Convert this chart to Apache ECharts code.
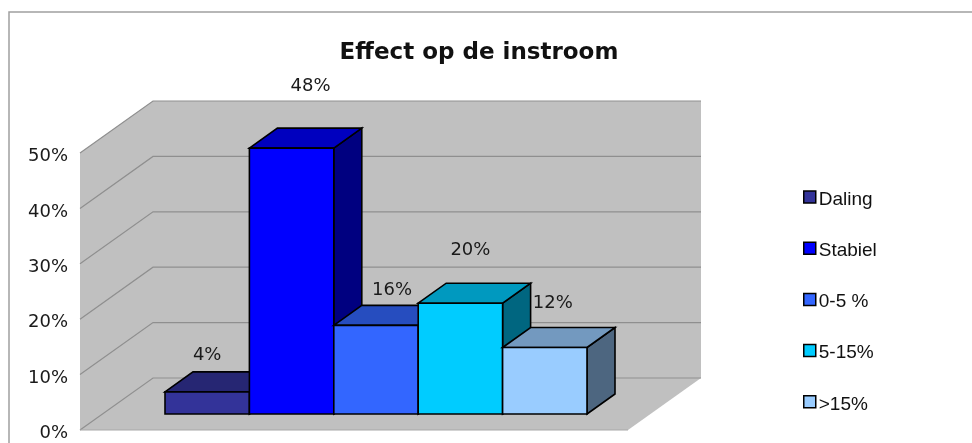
<!DOCTYPE html>
<html><head><meta charset="utf-8">
<style>html,body{margin:0;padding:0;background:#fff}#c{width:972px;height:443px}</style>
<script src="https://cdn.jsdelivr.net/npm/echarts@6/dist/echarts.min.js"></script>
</head><body><div id="c"></div>
<script>
var titleText = 'Effect op de instroom';
var categories = ['Daling', 'Stabiel', '0-5 %', '5-15%', '>15%'];
var values = [4, 48, 16, 20, 12];
var colors = ['#333399', '#0000ff', '#3366ff', '#00ccff', '#99ccff'];
var yTicks = [0, 10, 20, 30, 40, 50];
var labelNudgeX = [0, 19, 16, 10, 8];
var labelNudgeY = [38, 63, 36, 54, 45];

// projection of the 3D look
var WALL_DX = 73, WALL_DY = -52;   // floor depth
var BAR_DX = 28, BAR_DY = -20;     // bar depth
var BAR_SHIFT_Y = -16;             // bars stand on the floor, in front of the back wall
var PLANE_LEFT = 85, PLANE_RIGHT = 41; // front plane beyond the bars' span

function shade(hex, f) {
  var n = parseInt(hex.slice(1), 16);
  var r = Math.round((n >> 16 & 255) * f), g = Math.round((n >> 8 & 255) * f), b = Math.round((n & 255) * f);
  return 'rgb(' + r + ',' + g + ',' + b + ')';
}
function poly(pts, fill, stroke, lw) {
  return { type: 'polygon', shape: { points: pts }, style: { fill: fill, stroke: stroke || null, lineWidth: lw || 0 } };
}
function renderWalls(params, api) {
  var cs = params.coordSys;
  var xl = cs.x - PLANE_LEFT, xr = cs.x + cs.width + PLANE_RIGHT;
  var y0 = api.coord([0, 0])[1], yT = api.coord([0, yTicks[yTicks.length - 1]])[1];
  var kids = [
    poly([[xl, y0], [xr, y0], [xr + WALL_DX, y0 + WALL_DY], [xl + WALL_DX, y0 + WALL_DY]], '#c0c0c0'),
    poly([[xl, y0], [xl, yT], [xl + WALL_DX, yT + WALL_DY], [xl + WALL_DX, y0 + WALL_DY]], '#c0c0c0'),
    { type: 'rect', shape: { x: xl + WALL_DX, y: yT + WALL_DY, width: xr - xl, height: y0 - yT }, style: { fill: '#c0c0c0' } }
  ];
  var line = { stroke: '#8f8f8f', lineWidth: 1.2 };
  yTicks.forEach(function (t) {
    var y = api.coord([0, t])[1];
    kids.push({ type: 'polyline', shape: { points: [[xl, y], [xl + WALL_DX, y + WALL_DY], [xr + WALL_DX, y + WALL_DY]] }, style: Object.assign({ fill: null }, line) });
  });
  kids.push({ type: 'line', shape: { x1: xl, y1: y0, x2: xr, y2: y0 }, style: { stroke: '#a8a8a8', lineWidth: 1.2 } });
  return { type: 'group', children: kids };
}
function renderBar(params, api) {
  var idx = api.value(0), val = api.value(1);
  var base = api.coord([idx, 0]), top = api.coord([idx, val]);
  var w = api.size([1, 0])[0];
  var xa = base[0] - w / 2, xb = base[0] + w / 2;
  var yb = base[1] + BAR_SHIFT_Y, yt = top[1] + BAR_SHIFT_Y;
  var c = colors[idx], edge = '#000', lw = 1.6;
  return {
    type: 'group', children: [
      poly([[xb, yb], [xb + BAR_DX, yb + BAR_DY], [xb + BAR_DX, yt + BAR_DY], [xb, yt]], shade(c, 0.5), edge, lw),
      poly([[xa, yt], [xa + BAR_DX, yt + BAR_DY], [xb + BAR_DX, yt + BAR_DY], [xb, yt]], shade(c, 0.75), edge, lw),
      { type: 'rect', shape: { x: xa, y: yt, width: xb - xa, height: yb - yt }, style: { fill: c, stroke: edge, lineWidth: lw } }
    ]
  };
}
function renderLabel(params, api) {
  var idx = api.value(0), val = api.value(1);
  var top = api.coord([idx, val]);
  return {
    type: 'text', z2: 100,
    style: {
      x: top[0] + labelNudgeX[idx], y: top[1] + BAR_SHIFT_Y - labelNudgeY[idx] + 1,
      text: val + '%', textAlign: 'center', textVerticalAlign: 'middle',
      font: '18px "DejaVu Sans"', fill: '#1a1a1a'
    }
  };
}
var series = [{ type: 'custom', name: 'walls', silent: true, z: 1, renderItem: renderWalls, data: [[0, 0]], encode: { x: 0, y: 1 } }];
categories.forEach(function (n, i) {
  series.push({ type: 'custom', name: n, z: 2 + i, renderItem: renderBar, data: [[i, values[i]]], itemStyle: { color: colors[i] }, encode: { x: 0, y: 1 } });
});
series.push({ type: 'custom', name: 'labels', silent: true, z: 20, renderItem: renderLabel, data: values.map(function (v, i) { return [i, v]; }), encode: { x: 0, y: 1 } });

var chart = echarts.init(document.getElementById('c'), null, { renderer: 'canvas', width: 972, height: 443 });
chart.setOption({
  animation: false,
  backgroundColor: '#fff',
  title: { text: titleText, left: 474, top: 37, textAlign: 'center', textStyle: { fontFamily: 'DejaVu Sans', fontWeight: 'bold', fontSize: 23, color: '#111' } },
  graphic: [{ type: 'rect', z: -1, shape: { x: 9, y: 12, width: 1000, height: 460 }, style: { fill: '#fff', stroke: '#a0a0a0', lineWidth: 1.5 } }],
  legend: {
    data: categories, orient: 'vertical', left: 803, top: 190, itemWidth: 12, itemHeight: 12, itemGap: 32.2,
    icon: 'rect', selectedMode: false, padding: 0,
    itemStyle: { borderColor: '#000', borderWidth: 1.5 },
    formatter: '{t|{name}}',
    textStyle: { rich: { t: { fontFamily: 'Liberation Sans', fontSize: 19, color: '#111', padding: [5, 0, 0, -2] } } }
  },
  grid: { left: 165, width: 422, top: 153, height: 277 },
  xAxis: { type: 'category', data: categories, show: false, boundaryGap: true },
  yAxis: {
    type: 'value', min: 0, max: 50, interval: 10, offset: PLANE_LEFT,
    axisLine: { show: false }, axisTick: { show: false }, splitLine: { show: false },
    axisLabel: { margin: 12, formatter: '{t|{value}%}', rich: { t: { fontFamily: 'DejaVu Sans', fontSize: 18, color: '#1a1a1a', padding: [7, 0, 0, 0] } } }
  },
  series: series
});
</script></body></html>
